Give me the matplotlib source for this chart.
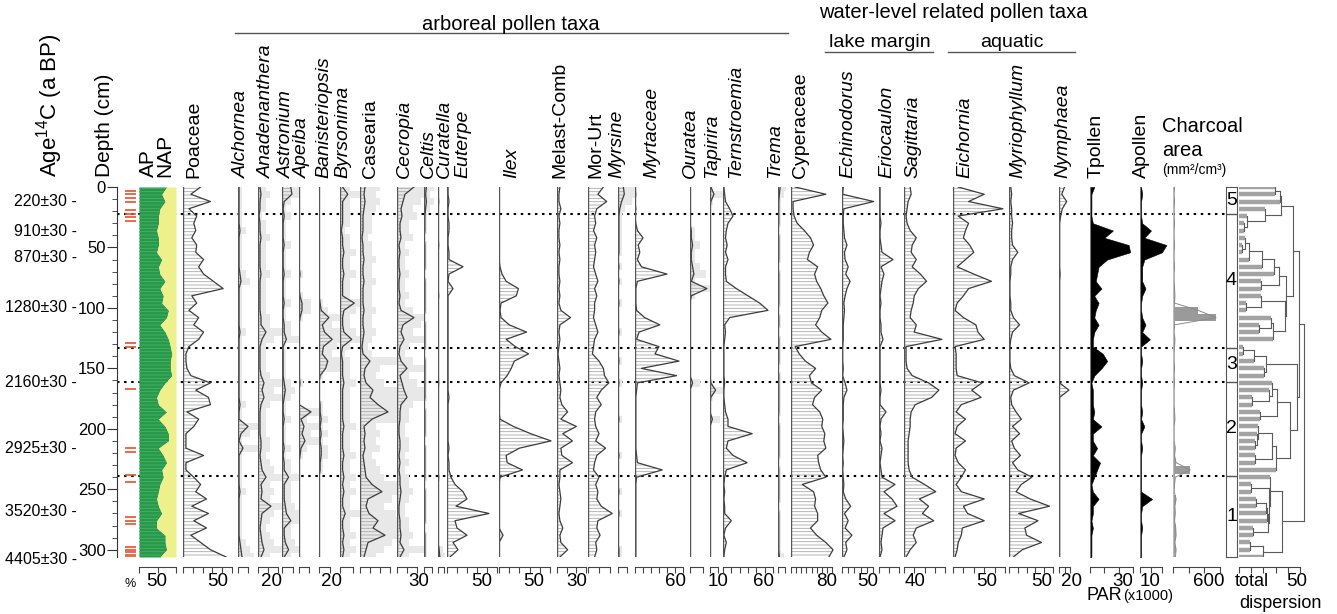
import numpy as np
import matplotlib
matplotlib.use("Agg")
import matplotlib.pyplot as plt
from matplotlib.transforms import blended_transform_factory

plt.rcParams["font.family"] = ["Liberation Sans", "DejaVu Sans"]
plt.rcParams["mathtext.fontset"] = "custom"
plt.rcParams["mathtext.rm"] = "Liberation Sans"
plt.rcParams["hatch.linewidth"] = 0.6

DEPTH = [0, 6, 12, 18, 24, 30, 36, 42, 48, 54, 60, 66, 72, 78, 84, 90, 96, 102, 108, 114,
         120, 126, 132, 138, 144, 150, 156, 162, 168, 174, 180, 186, 192, 198, 204, 210,
         216, 222, 228, 234, 240, 246, 252, 258, 264, 270, 276, 282, 288, 294, 300, 306]

AP = [75, 62, 71, 57, 53, 53, 48, 53, 53, 48, 62, 53, 57, 71, 57, 66, 62, 80, 75, 57,
      71, 80, 85, 89, 85, 85, 89, 71, 57, 48, 53, 75, 53, 71, 80, 80, 53, 66, 75, 62,
      66, 57, 53, 48, 53, 62, 48, 48, 71, 71, 75, 57]
POACEAE = [18, 8, 28, 6, 14, 11, 13, 9, 14, 13, 21, 16, 21, 31, 41, 9, 14, 6, 16, 11,
           21, 16, 6, 3, 3, 4, 8, 28, 13, 26, 28, 4, 16, 11, 3, 3, 3, 21, 3, 3,
           11, 18, 13, 24, 9, 26, 11, 24, 8, 18, 28, 44]
ALCHORNEA = [1, 1, 1, 1, 1, 1, 2, 1, 1, 1, 1, 1, 2, 3, 1, 1, 1, 1, 1, 1,
             2, 1, 1, 1, 1, 1, 1, 1, 1, 1, 2, 1, 1, 10, 3, 1, 5, 1, 1, 1,
             1, 1, 2, 1, 1, 1, 1, 1, 1, 2, 3, 4]
ANADENANTHERA = [2, 3, 2, 2, 1, 2, 2, 3, 2, 2, 2, 2, 3, 2, 2, 2, 2, 2, 3, 3,
                 8, 4, 2, 2, 2, 2, 3, 6, 4, 6, 3, 2, 2, 2, 2, 3, 3, 2, 3, 4,
                 8, 3, 4, 3, 13, 4, 3, 2, 3, 4, 6, 3]
ASTRONIUM = [8, 9, 2, 1, 2, 1, 1, 1, 2, 1, 1, 1, 2, 1, 1, 1, 2, 1, 1, 2,
             2, 4, 1, 1, 1, 1, 1, 2, 3, 2, 1, 1, 2, 1, 1, 1, 2, 1, 2, 2,
             6, 2, 2, 2, 3, 4, 8, 2, 2, 3, 6, 2]
APEIBA = [0, 0, 0, 0, 0, 0, 0, 0, 0, 0, 0, 0, 1, 0, 0, 1, 3, 3, 1, 0,
          0, 0, 0, 0, 0, 0, 0, 1, 0, 0, 0, 12, 2, 5, 3, 6, 2, 1, 0, 0,
          0, 0, 0, 0, 0, 0, 0, 0, 0, 0, 0, 0]
BANISTERIOPSIS = [0, 0, 0, 0, 0, 0, 0, 0, 0, 0, 0, 0, 0, 0, 0, 0, 1, 2, 9, 3,
                  5, 12, 4, 3, 8, 6, 1, 0, 0, 0, 1, 1, 2, 1, 2, 1, 2, 2, 1, 1,
                  0, 0, 0, 0, 0, 0, 0, 0, 0, 0, 0, 0]
BYRSONIMA = [2, 6, 2, 2, 2, 2, 1, 2, 2, 3, 2, 2, 3, 2, 2, 2, 11, 3, 2, 2,
             3, 9, 2, 1, 2, 2, 2, 3, 2, 2, 2, 2, 2, 3, 2, 2, 2, 3, 2, 2,
             3, 2, 3, 2, 2, 4, 2, 2, 3, 2, 3, 2]
CASEARIA = [5, 4, 5, 4, 3, 3, 3, 2, 3, 3, 4, 3, 3, 4, 3, 3, 3, 4, 3, 3,
            4, 3, 2, 3, 10, 5, 4, 6, 13, 10, 18, 28, 12, 4, 5, 4, 5, 3, 4, 5,
            6, 12, 22, 8, 6, 9, 18, 13, 25, 8, 6, 4]
CECROPIA = [17, 8, 6, 4, 5, 3, 3, 4, 2, 3, 2, 2, 3, 2, 2, 3, 2, 4, 17, 6,
            4, 7, 3, 2, 4, 10, 3, 5, 7, 10, 4, 3, 3, 2, 2, 3, 3, 2, 3, 2,
            3, 3, 4, 3, 2, 2, 3, 3, 4, 3, 7, 3]
CELTIS = [3, 2, 3, 2, 1, 1, 1, 0, 1, 1, 1, 1, 0, 1, 1, 1, 1, 1, 0, 1,
          1, 1, 1, 0, 1, 1, 1, 1, 1, 1, 0, 1, 1, 1, 1, 0, 1, 1, 1, 1,
          1, 0, 1, 1, 1, 1, 1, 0, 1, 1, 1, 1]
CURATELLA = [0, 0, 1, 0, 0, 0, 0, 0, 1, 0, 0, 0, 0, 0, 0, 1, 0, 0, 0, 0,
             0, 0, 0, 0, 0, 0, 0, 1, 0, 0, 0, 0, 0, 0, 0, 0, 0, 0, 0, 0,
             1, 0, 0, 0, 0, 0, 0, 0, 0, 0, 2, 3]
EUTERPE = [1, 1, 2, 1, 1, 2, 2, 1, 1, 2, 2, 16, 2, 1, 6, 1, 1, 1, 1, 1,
           1, 1, 1, 1, 1, 1, 1, 1, 1, 2, 1, 1, 1, 1, 1, 1, 2, 1, 2, 2,
           4, 8, 16, 20, 9, 42, 8, 10, 20, 6, 11, 3]
ILEX = [0, 0, 0, 0, 0, 0, 0, 0, 0, 0, 0, 1, 3, 7, 19, 17, 2, 1, 2, 10,
        27, 7, 16, 29, 15, 12, 8, 2, 0, 0, 0, 0, 1, 14, 31, 51, 20, 7, 8, 23,
        1, 0, 0, 0, 0, 0, 0, 0, 4, 0, 0, 0]
MELAST_COMB = [3, 2, 2, 4, 2, 3, 2, 2, 3, 2, 3, 2, 2, 3, 2, 3, 2, 4, 14, 3,
               2, 3, 2, 1, 2, 3, 2, 3, 4, 3, 5, 11, 4, 20, 6, 16, 4, 5, 16, 3,
               3, 2, 3, 4, 3, 2, 3, 6, 3, 4, 11, 3]
MOR_URT = [14, 9, 17, 8, 6, 7, 5, 8, 6, 7, 6, 5, 7, 9, 6, 8, 6, 6, 5, 7,
           9, 6, 5, 4, 10, 14, 15, 19, 12, 8, 12, 7, 6, 7, 10, 7, 16, 8, 6, 5,
           10, 7, 9, 8, 12, 22, 9, 8, 11, 7, 8, 6]
MYRSINE = [6, 7, 4, 2, 1, 1, 1, 1, 1, 1, 0, 1, 0, 1, 0, 0, 1, 0, 0, 0,
           1, 0, 0, 0, 1, 0, 0, 1, 0, 0, 0, 0, 1, 0, 0, 0, 0, 1, 0, 0,
           0, 0, 1, 0, 0, 1, 0, 0, 0, 0, 1, 1]
MYRTACEAE = [0, 1, 0, 1, 0, 1, 3, 10, 4, 6, 3, 8, 40, 3, 1, 1, 1, 2, 12, 31,
             5, 2, 30, 25, 55, 8, 52, 3, 2, 1, 1, 1, 1, 1, 1, 1, 1, 2, 3, 34,
             2, 1, 1, 1, 1, 1, 1, 1, 1, 1, 1, 1]
OURATEA = [0, 0, 0, 0, 0, 0, 1, 1, 2, 1, 1, 2, 3, 1, 13, 1, 0, 0, 0, 0,
           0, 0, 0, 0, 0, 0, 0, 2, 0, 0, 0, 0, 0, 0, 0, 0, 0, 0, 0, 0,
           0, 0, 0, 0, 0, 0, 0, 0, 0, 0, 0, 0]
TAPIRIRA = [1, 5, 1, 0, 0, 0, 0, 0, 0, 0, 0, 0, 0, 0, 0, 0, 0, 0, 0, 0,
            0, 0, 0, 0, 0, 0, 0, 1, 7, 1, 0, 0, 3, 0, 0, 0, 0, 0, 0, 0,
            0, 0, 0, 0, 0, 0, 0, 0, 0, 0, 0, 0]
TERNSTROEMIA = [1, 2, 3, 8, 12, 6, 4, 3, 5, 3, 6, 3, 3, 4, 16, 30, 44, 54, 8, 2,
                3, 2, 1, 1, 1, 1, 1, 2, 1, 1, 2, 3, 6, 6, 35, 6, 4, 12, 29, 4,
                2, 1, 2, 1, 2, 2, 10, 3, 1, 4, 2, 1]
TREMA = [3, 2, 1, 1, 1, 1, 0, 1, 1, 1, 1, 0, 1, 1, 1, 1, 1, 0, 1, 1,
         0, 1, 1, 1, 1, 0, 1, 1, 1, 1, 1, 1, 0, 1, 1, 1, 1, 1, 0, 1,
         1, 1, 1, 1, 0, 1, 1, 1, 1, 1, 1, 2]
CYPERACEAE = [8, 68, 4, 4, 6, 12, 26, 38, 44, 36, 32, 52, 46, 50, 58, 64, 72, 60, 56, 48,
              60, 78, 8, 16, 28, 48, 36, 40, 60, 46, 42, 56, 62, 60, 66, 64, 68, 52, 54, 58,
              68, 22, 44, 48, 46, 52, 52, 38, 50, 68, 82, 74]
ECHINODORUS = [2, 1, 51, 3, 2, 2, 3, 4, 8, 4, 5, 10, 6, 13, 8, 5, 3, 4, 3, 2,
               2, 2, 1, 1, 1, 2, 1, 5, 8, 3, 2, 2, 2, 1, 2, 3, 2, 1, 2, 1,
               2, 3, 2, 6, 14, 4, 10, 5, 16, 6, 8, 3]
ERIOCAULON = [1, 1, 1, 1, 1, 2, 1, 1, 2, 3, 14, 2, 5, 3, 2, 1, 2, 1, 1, 2,
              2, 4, 1, 1, 1, 1, 1, 1, 2, 1, 1, 7, 2, 1, 2, 1, 3, 2, 1, 2,
              3, 16, 5, 13, 18, 5, 16, 4, 3, 2, 3, 1]
SAGITTARIA = [6, 7, 4, 3, 2, 3, 6, 12, 8, 7, 12, 8, 16, 22, 14, 10, 9, 7, 6, 12,
              10, 37, 2, 2, 2, 3, 8, 24, 34, 27, 11, 7, 6, 6, 5, 4, 4, 4, 4, 5,
              8, 20, 31, 15, 24, 18, 29, 12, 9, 12, 6, 2]
EICHORNIA = [5, 30, 15, 48, 5, 15, 12, 10, 16, 20, 12, 4, 20, 37, 15, 10, 4, 2, 10, 22,
             24, 30, 2, 3, 3, 3, 4, 28, 18, 27, 8, 3, 12, 4, 2, 12, 3, 2, 5, 12,
             8, 3, 8, 30, 10, 14, 30, 9, 8, 5, 4, 2]
MYRIOPHYLLUM = [2, 3, 2, 3, 3, 4, 3, 3, 4, 10, 4, 2, 2, 1, 1, 1, 2, 2, 5, 12,
                4, 2, 1, 1, 1, 2, 6, 23, 5, 2, 3, 8, 14, 4, 12, 3, 6, 13, 4, 10,
                26, 14, 8, 24, 46, 11, 33, 18, 20, 37, 15, 5]
NYMPHAEA = [10, 5, 14, 6, 3, 1, 1, 1, 1, 1, 1, 1, 2, 1, 1, 1, 1, 1, 1, 1,
            1, 1, 1, 1, 1, 1, 1, 1, 18, 1, 1, 1, 1, 1, 1, 1, 1, 1, 1, 1,
            1, 1, 1, 1, 1, 1, 1, 1, 1, 1, 1, 1]
TPOLLEN = [3, 1, 1, 1, 1, 2, 16, 10, 27, 28, 12, 6, 5, 4, 8, 3, 6, 4, 3, 6,
           3, 2, 2, 9, 12, 8, 3, 1, 2, 2, 2, 3, 2, 8, 2, 2, 5, 2, 7, 5,
           3, 1, 2, 6, 2, 2, 1, 2, 1, 1, 1, 1]
APOLLEN = [0.5, 1, 0.5, 0.5, 0.5, 1, 5, 2, 12, 10, 2, 1, 1, 1, 2.5, 1, 0.5, 0.5, 1, 2.5,
           1, 4.5, 0.5, 0.5, 1, 0.5, 0.5, 1, 0.5, 0.5, 0.5, 1, 0.5, 2, 0.5, 0.5, 1, 0.5, 0.5, 0.5,
           0.5, 0.5, 0.5, 5.5, 1, 0.5, 0.5, 1, 0.5, 0.5, 0.5, 0.5]
CHARCOAL = [20, 15, 20, 15, 15, 20, 15, 15, 20, 15, 15, 20, 15, 15, 20, 25, 20, 320, 550, 20,
            15, 25, 20, 15, 15, 20, 15, 20, 15, 15, 15, 20, 25, 15, 15, 15, 30, 20, 40, 220,
            30, 20, 15, 40, 25, 30, 20, 35, 40, 25, 40, 30]

ZONE_BOUNDS = [22, 133, 161, 239]
ZONE_NAMES = ["5", "4", "3", "2", "1"]
RED_DEPTHS = [3, 6, 9, 12, 19, 22, 25, 28, 129, 132, 167, 216, 219, 238, 244,
              273, 276, 279, 298, 300, 302, 304, 306]
AGE_LABELS = ["220±30", "910±30", "870±30", "1280±30", "2160±30", "2925±30", "3520±30", "4405±30"]
AGE_DEPTHS = [12, 37, 58, 100, 162, 216, 268, 308]
ROOT_DISPERSION = 53

# ---------------- layout ----------------
W, H = 1337, 614
TOP, BOT = 187, 557
DMAX = 306

# name, values, x0, axis end, axis max, tick step, exaggerate, title x, italic, kind
COLUMNS = [
    ("Poaceae", POACEAE, 183, 232, 50, 10, False, 194, False, "line"),
    ("Alchornea", ALCHORNEA, 238, 248, 10, 10, True, 241, True, "line"),
    ("Anadenanthera", ANADENANTHERA, 258, 278, 20, 10, True, 266, True, "line"),
    ("Astronium", ASTRONIUM, 282, 293, 10, 10, True, 286, True, "line"),
    ("Apeiba", APEIBA, 299, 309, 10, 10, True, 302, True, "line"),
    ("Banisteriopsis", BANISTERIOPSIS, 319, 330, 10, 10, True, 324, True, "line"),
    ("Byrsonima", BYRSONIMA, 340, 353, 10, 10, True, 343, True, "line"),
    ("Casearia", CASEARIA, 360, 390, 30, 10, True, 371, False, "line"),
    ("Cecropia", CECROPIA, 397, 417, 20, 10, True, 404, True, "line"),
    ("Celtis", CELTIS, 424, 432, 10, 10, True, 428, True, "line"),
    ("Curatella", CURATELLA, 438, 444, 10, 10, True, 444, True, "line"),
    ("Euterpe", EUTERPE, 447, 497, 50, 10, False, 463, True, "line"),
    ("Ilex", ILEX, 499, 550, 50, 10, False, 512, True, "line"),
    ("Melast-Comb", MELAST_COMB, 557, 586, 30, 10, False, 560, False, "line"),
    ("Mor-Urt", MOR_URT, 588, 610, 20, 10, False, 596, False, "line"),
    ("Myrsine", MYRSINE, 618, 627, 10, 10, True, 617, True, "line"),
    ("Myrtaceae", MYRTACEAE, 635, 683, 60, 10, False, 652, True, "line"),
    ("Ouratea", OURATEA, 690, 703, 10, 10, True, 690, True, "line"),
    ("Tapirira", TAPIRIRA, 710, 718, 10, 10, True, 712, True, "line"),
    ("Ternstroemia", TERNSTROEMIA, 723, 773, 60, 10, False, 736, True, "line"),
    ("Trema", TREMA, 778, 785, 10, 10, True, 775, True, "line"),
    ("Cyperaceae", CYPERACEAE, 791, 832, 80, 10, False, 800, False, "line"),
    ("Echinodorus", ECHINODORUS, 842, 873, 50, 10, False, 848, True, "line"),
    ("Eriocaulon", ERIOCAULON, 879, 899, 20, 10, False, 887, True, "line"),
    ("Sagittaria", SAGITTARIA, 904, 945, 40, 10, False, 913, True, "line"),
    ("Eichornia", EICHORNIA, 953, 1005, 50, 10, False, 965, True, "line"),
    ("Myriophyllum", MYRIOPHYLLUM, 1009, 1053, 50, 10, False, 1018, True, "line"),
    ("Nymphaea", NYMPHAEA, 1059, 1070, 20, 10, False, 1063, True, "line"),
    ("Tpollen", TPOLLEN, 1090, 1133, 30, 10, False, 1096, False, "black"),
    ("Apollen", APOLLEN, 1140, 1162, 10, 5, False, 1141, False, "black"),
    ("Charcoal", CHARCOAL, 1173, 1220, 600, 200, False, None, False, "charcoal"),
]
BOTTOM_LABELS = [("50", 157), ("50", 218), ("20", 271), ("20", 332), ("30", 419),
                 ("50", 482), ("50", 534), ("30", 577), ("60", 676), ("10", 718),
                 ("60", 764), ("80", 827), ("50", 868), ("40", 915), ("50", 987),
                 ("50", 1042), ("20", 1072), ("30", 1123), ("10", 1150), ("600", 1209)]

LINE_C = "#3c3c3c"
AXIS_C = "#555555"
EXAG = 4

fig = plt.figure(figsize=(W / 100, H / 100), dpi=100)
fig.patch.set_facecolor("white")


def px_axes(x0, x1, y0=TOP, y1=BOT):
    ax = fig.add_axes([x0 / W, 1 - y1 / H, (x1 - x0) / W, (y1 - y0) / H])
    ax.patch.set_visible(False)
    ax.set_ylim(DMAX, 0)
    return ax


def bottom_axis(ax, amax, step):
    for s in ["top", "right", "left"]:
        ax.spines[s].set_visible(False)
    ax.spines["bottom"].set_position(("outward", 7.2))
    ax.spines["bottom"].set_bounds(0, amax)
    ax.spines["bottom"].set_color("#444444")
    ax.spines["bottom"].set_linewidth(0.8)
    ax.set_xticks(np.arange(0, amax + 0.01, step))
    ax.tick_params(axis="x", direction="out", length=4.5, width=0.8,
                   color="#444444", labelbottom=False)
    ax.set_yticks([])


# overlay for text in pixel coordinates
ov = fig.add_axes([0, 0, 1, 1])
ov.set_xlim(0, W)
ov.set_ylim(H, 0)
ov.axis("off")

# zone boundaries
bg = px_axes(117, 1226)
bg.set_xlim(0, 1)
bg.axis("off")
for z in ZONE_BOUNDS:
    bg.axhline(z, color="black", lw=1.5, ls=(0, (1.2, 2.2)))

# depth axis with red marks
dax = px_axes(117, 138)
dax.set_xlim(0, 21)
for s in ["top", "right", "bottom"]:
    dax.spines[s].set_visible(False)
dax.spines["left"].set_color("#333333")
dax.set_xticks([])
dax.set_yticks(np.arange(0, 301, 50))
dax.set_yticks(np.arange(0, 301, 10), minor=True)
dax.tick_params(axis="y", which="major", length=7, labelsize=12, pad=1, color="#333333")
dax.tick_params(axis="y", which="minor", length=3.5, color="#333333")
dax.hlines(RED_DEPTHS, 8, 19, color="#e8502a", lw=1.2)

age_tr = blended_transform_factory(ov.transData, dax.transData)
for lab, d in zip(AGE_LABELS, AGE_DEPTHS):
    ov.text(77, d, lab + " -", transform=age_tr, ha="right", va="center", fontsize=11.5)

# AP / NAP
apax = px_axes(139, 176)
apax.set_xlim(0, 100)
apax.fill_betweenx(DEPTH, 0, AP, color="#28994b", lw=0)
apax.fill_betweenx(DEPTH, 0, AP, facecolor="none", edgecolor="#46b163", hatch="-----", lw=0)
apax.fill_betweenx(DEPTH, AP, 100, color="#eef08c", lw=0)
bottom_axis(apax, 100, 50)

# pollen columns
for i, (name, vals, x0, x_end, amax, step, exag, tx, italic, kind) in enumerate(COLUMNS):
    x1 = COLUMNS[i + 1][2] - 1 if i + 1 < len(COLUMNS) else 1224
    ax = px_axes(x0, x1)
    ppu = (x_end - x0) / amax
    ax.set_xlim(0, (x1 - x0) / ppu)
    v = np.array(vals, dtype=float)
    if kind == "line":
        if exag:
            ax.fill_betweenx(DEPTH, 0, v * EXAG, step="mid", color="#e8e8e8", lw=0)
        ax.fill_betweenx(DEPTH, 0, v, facecolor="none", edgecolor="#a9a9a9",
                         hatch="-----", lw=0)
        ax.plot(v, DEPTH, color=LINE_C, lw=0.9)
        ax.axvline(0, color=AXIS_C, lw=1.0)
    elif kind == "black":
        ax.fill_betweenx(DEPTH, 0, v, color="black", lw=0.4)
        ax.axvline(0, color="#777777", lw=0.8)
    else:
        ax.fill_betweenx(DEPTH, 0, v, step="mid", color="#9a9a9a", lw=0)
        ax.plot(v, DEPTH, color="#8a8a8a", lw=0.7)
        ax.axvline(0, color="#bbbbbb", lw=0.8)
    bottom_axis(ax, amax, step)
    if tx is not None:
        ov.text(tx, 178, name, rotation=90, ha="center", va="bottom", fontsize=14,
                style="italic" if italic else "normal")

# zones box
zax = px_axes(1226, 1237)
zax.set_xlim(0, 1)
zax.set_xticks([])
zax.set_yticks([])
for s in zax.spines.values():
    s.set_color(AXIS_C)
for z in ZONE_BOUNDS:
    zax.axhline(z, color=AXIS_C, lw=1)
edges = [0] + ZONE_BOUNDS + [DMAX]
for k, zn in enumerate(ZONE_NAMES):
    zax.text(0.5, (edges[k] + edges[k + 1]) / 2, zn, ha="center", va="center", fontsize=14)

# CONISS dendrogram computed from the pollen percentages
taxa = [POACEAE, ALCHORNEA, ANADENANTHERA, ASTRONIUM, APEIBA, BANISTERIOPSIS, BYRSONIMA,
        CASEARIA, CECROPIA, CELTIS, CURATELLA, EUTERPE, ILEX, MELAST_COMB, MOR_URT, MYRSINE,
        MYRTACEAE, OURATEA, TAPIRIRA, TERNSTROEMIA, TREMA, CYPERACEAE, ECHINODORUS,
        ERIOCAULON, SAGITTARIA, EICHORNIA, MYRIOPHYLLUM, NYMPHAEA]
mat = np.sqrt(np.array(taxa, dtype=float).T / 100.0)


def ss(a, b):
    block = mat[a:b + 1]
    return float(((block - block.mean(axis=0)) ** 2).sum())


clusters = [dict(a=i, b=i, h=0.0, y=float(DEPTH[i]), leaf=True) for i in range(len(DEPTH))]
total = 0.0
hsegs, vsegs = [], []
while len(clusters) > 1:
    incs = [ss(c1["a"], c2["b"]) - ss(c1["a"], c1["b"]) - ss(c2["a"], c2["b"])
            for c1, c2 in zip(clusters[:-1], clusters[1:])]
    k = int(np.argmin(incs))
    c1, c2 = clusters[k], clusters[k + 1]
    total += incs[k]
    for c in (c1, c2):
        hsegs.append((c["h"], total, c["y"], c["leaf"]))
    vsegs.append((total, c1["y"], c2["y"]))
    clusters[k:k + 2] = [dict(a=c1["a"], b=c2["b"], h=total, y=(c1["y"] + c2["y"]) / 2, leaf=False)]


def disp_x(h):
    # square-root display scale so the early merges stay readable
    return np.sqrt(h / total) * ROOT_DISPERSION


dnd = px_axes(1239, 1337)
dnd.set_xlim(0, 98 / (61 / 50))
for h0, h1, y, leaf in hsegs:
    if leaf:
        dnd.plot([disp_x(h0), disp_x(h1)], [y, y], color="#a3a3a3", lw=3.2, solid_capstyle="butt")
    else:
        dnd.plot([disp_x(h0), disp_x(h1)], [y, y], color="#5a5a5a", lw=0.8)
for h, y0, y1 in vsegs:
    dnd.plot([disp_x(h), disp_x(h)], [y0, y1], color="#5a5a5a", lw=0.8)
bottom_axis(dnd, 50, 10)

# headers
ov.text(50, 177, r"Age$^{\mathregular{14}}$C (a BP)", rotation=90, ha="center", va="bottom", fontsize=16)
ov.text(104, 177, "Depth (cm)", rotation=90, ha="center", va="bottom", fontsize=15)
ov.text(148, 177, "AP", rotation=90, ha="center", va="bottom", fontsize=15)
ov.text(165, 177, "NAP", rotation=90, ha="center", va="bottom", fontsize=15)

ov.text(511, 30, "arboreal pollen taxa", ha="center", va="baseline", fontsize=14.5)
ov.plot([235, 788], [33, 33], color=AXIS_C, lw=1)
ov.text(953, 18, "water-level related pollen taxa", ha="center", va="baseline", fontsize=14.5)
ov.text(880, 47, "lake margin", ha="center", va="baseline", fontsize=14)
ov.plot([825, 933], [52, 52], color=AXIS_C, lw=1)
ov.text(1012, 47, "aquatic", ha="center", va="baseline", fontsize=14)
ov.plot([948, 1075], [52, 52], color=AXIS_C, lw=1)

ov.text(1162, 127, "Charcoal", ha="left", va="center", fontsize=14.5)
ov.text(1162, 150, "area", ha="left", va="center", fontsize=14.5)
ov.text(1162, 170, "(mm²/cm³)", ha="left", va="center", fontsize=10)

# bottom scale labels
ov.text(130, 584, "%", ha="center", va="center", fontsize=9)
for lab, x in BOTTOM_LABELS:
    ov.text(x, 582, lab, ha="center", va="center", fontsize=13.5)
ov.text(1087, 596, "PAR", ha="left", va="center", fontsize=13)
ov.text(1123, 596, "(x1000)", ha="left", va="center", fontsize=10.5)
ov.text(1252, 582, "total", ha="center", va="center", fontsize=13)
ov.text(1297, 582, "50", ha="center", va="center", fontsize=13.5)
ov.text(1280, 603, "dispersion", ha="center", va="center", fontsize=13)

fig.savefig("out.png", dpi=100)
